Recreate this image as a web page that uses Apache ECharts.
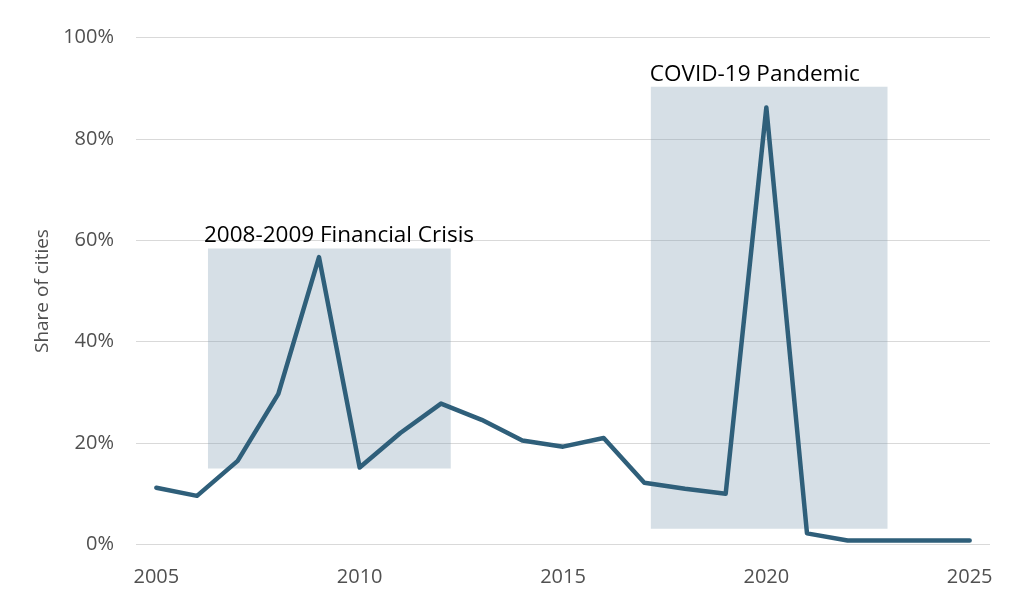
<!DOCTYPE html>
<html>
<head>
<meta charset="utf-8">
<script src="https://cdn.jsdelivr.net/npm/echarts@6/dist/echarts.min.js"></script>
<style>
html,body{margin:0;padding:0;background:#fff;}
#chart{width:1024px;height:610px;}
</style>
</head>
<body>
<div id="chart"></div>
<script>
const years = [2005,2006,2007,2008,2009,2010,2011,2012,2013,2014,2015,2016,2017,2018,2019,2020,2021,2022,2023,2024,2025];
const shareOfCities = [11.2,9.6,16.5,29.7,56.7,15.2,22.0,27.8,24.6,20.5,19.3,21.0,12.2,11.0,10.0,86.2,2.2,0.8,0.8,0.8,0.8];
const xTickLabels = [2005,2010,2015,2020,2025];
const yTicks = [0,20,40,60,80,100];
const periodNames = ['2008-2009 Financial Crisis','COVID-19 Pandemic'];
const periodStart = [2006.27, 2017.16];
const periodEnd = [2012.24, 2022.98];
const periodTop = [58.4, 90.3];
const periodBottom = [15.0, 3.1];

const chart = echarts.init(document.getElementById('chart'), null, {renderer:'canvas'});
const labelOffsets = [[-4,-1],[-1,-1]];
const areas = periodNames.map((n,i)=>[
  {name:n, xAxis:periodStart[i], yAxis:periodTop[i],
   label:{position:labelOffsets[i]}},
  {xAxis:periodEnd[i], yAxis:periodBottom[i]}
]);
chart.setOption({
  animation:false,
  backgroundColor:'#ffffff',
  grid:{left:136,right:34,top:37.6,bottom:65.5,containLabel:false},
  xAxis:{
    type:'value', min:2004.5, max:2025.5,
    axisLine:{show:false}, axisTick:{show:false}, splitLine:{show:false},
    axisLabel:{customValues:xTickLabels, formatter:v=>String(v), color:'#505050',
      fontFamily:'Open Sans', fontSize:20, margin:23}
  },
  yAxis:{
    type:'value', min:0, max:100, interval:20,
    name:'Share of cities', nameLocation:'middle', nameGap:82,
    nameTextStyle:{color:'#505050', fontFamily:'Open Sans', fontSize:19},
    axisLine:{show:false}, axisTick:{show:false},
    axisLabel:{formatter:'{value}%', color:'#505050', fontFamily:'Open Sans', fontSize:20, margin:22},
    splitLine:{lineStyle:{color:'#d9d9d9', width:1}}
  },
  series:[{
    type:'line',
    data:years.map((y,i)=>[y, shareOfCities[i]]),
    symbol:'none',
    lineStyle:{color:'#2f5f7a', width:4.5, join:'round', cap:'round'},
    z:3,
    markArea:{
      silent:true,
      itemStyle:{color:'rgba(132,158,178,0.33)'},
      label:{show:true, color:'#000000', fontFamily:'Open Sans', fontSize:22.5,
        align:'left', verticalAlign:'bottom'},
      data:areas
    }
  }]
});
</script>
</body>
</html>
